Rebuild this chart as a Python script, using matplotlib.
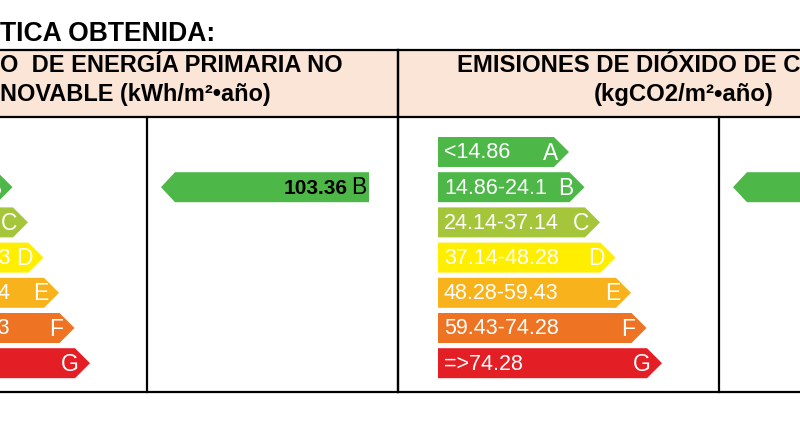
import matplotlib.pyplot as plt
from matplotlib.patches import Polygon

plt.rcParams['font.family'] = ['Liberation Sans', 'DejaVu Sans']

# rating scale
classes = ["A", "B", "C", "D", "E", "F", "G"]
class_colors = ["#4DB848", "#4DB848", "#A5C63B", "#FFEE00", "#F8B21C", "#EE7423", "#E41E25"]
energy_ranges = ["<63.66", "63.66-103.4", "103.4-159.15", "159.15-206.93",
                 "206.93-254.64", "254.64-318.33", "=>318.33"]
co2_ranges = ["<14.86", "14.86-24.1", "24.14-37.14", "37.14-48.28",
              "48.28-59.43", "59.43-74.28", "=>74.28"]

# obtained values
energy_value = 103.36
energy_class = "B"
co2_value = 23.41
co2_class = "B"

# visible part of the texts (the picture is a crop of a wider table)
title = "TICA OBTENIDA:"
head_left = ["O  DE ENERGÍA PRIMARIA NO", "NOVABLE (kWh/m²•año)"]
head_right = ["EMISIONES DE DIÓXIDO DE C", "(kgCO2/m²•año)"]

# layout (pixels of the visible window)
block_left = [-174, 398]
block_width = 572
scale_width = 320
row_top0, row_step, row_h = 137, 35.2, 30
head_top, head_bot, body_bot = 50, 117, 392

fig = plt.figure(figsize=(8, 4.38), dpi=100)
ax = fig.add_axes([0, 0, 1, 1])
ax.set_xlim(0, 800)
ax.set_ylim(438, 0)
ax.axis("off")

ax.text(0, 34, title, ha="left", va="center", fontsize=19.1, fontweight="bold")


def scale_arrow(x0, i, label, color):
    top = row_top0 + i * row_step
    bot = top + row_h
    mid = (top + bot) / 2
    end = x0 + 116 + 15.5 * i
    tip = end + 15
    ax.add_patch(Polygon([(x0, top), (end, top), (tip, mid), (end, bot), (x0, bot)],
                         closed=True, facecolor=color, edgecolor="none"))
    ax.text(x0 + 6, mid + 1, label, color="white", fontsize=15.5, ha="left", va="center")
    ax.text(tip - 11, mid + 1, classes[i], color="white", fontsize=16.5, ha="right", va="center")


def result_arrow(x0, value, cls):
    i = classes.index(cls)
    top = row_top0 + i * row_step
    bot = top + row_h
    mid = (top + bot) / 2
    tip = x0 + 14
    right = x0 + 222
    ax.add_patch(Polygon([(tip, mid), (tip + 14, top), (right, top), (right, bot), (tip + 14, bot)],
                         closed=True, facecolor=class_colors[i], edgecolor="none"))
    ax.text(right - 3, mid, cls, fontsize=16.5, ha="right", va="center")
    ax.text(right - 21, mid + 1, f"{value:.2f}", fontsize=15, fontweight="bold",
            ha="right", va="center")


for bl, ranges, value, cls in zip(block_left, [energy_ranges, co2_ranges],
                                  [energy_value, co2_value], [energy_class, co2_class]):
    br = bl + block_width
    ax.add_patch(plt.Rectangle((bl, head_top), block_width, head_bot - head_top,
                               facecolor="#FBE5D6", edgecolor="none"))
    for j, r in enumerate(ranges):
        scale_arrow(bl + 40, j, r, class_colors[j])
    result_arrow(bl + scale_width + 1, value, cls)
    mid_x = bl + scale_width + 1
    for x in (bl, br):
        ax.plot([x, x], [head_top, body_bot], color="black", lw=1.6)
    ax.plot([mid_x, mid_x], [head_bot, body_bot], color="black", lw=1.6)

ax.text(0, 65, head_left[0], ha="left", va="center", fontsize=17, fontweight="bold")
ax.text(0, 94, head_left[1], ha="left", va="center", fontsize=16.9, fontweight="bold")
ax.text(457, 65, head_right[0], ha="left", va="center", fontsize=17.2, fontweight="bold")
ax.text(684, 94, head_right[1], ha="center", va="center", fontsize=17.2, fontweight="bold")

for y in (head_top, head_bot, body_bot):
    ax.plot([-200, 1000], [y, y], color="black", lw=1.6)

fig.savefig("out.png", dpi=100)
